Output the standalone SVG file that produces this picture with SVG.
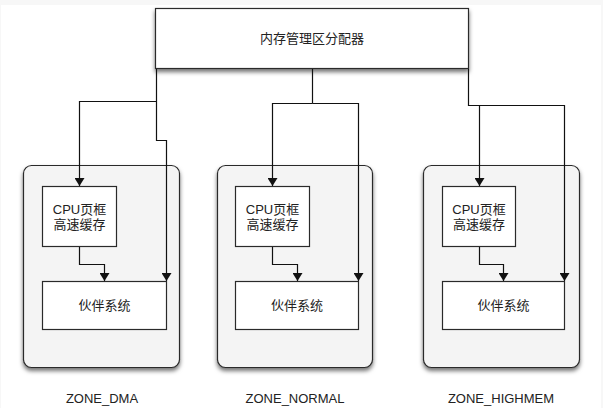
<svg xmlns="http://www.w3.org/2000/svg" width="603" height="408" viewBox="0 0 603 408">
<defs>
<filter id="sh" x="-10%" y="-10%" width="120%" height="125%">
<feDropShadow dx="0" dy="3" stdDeviation="2" flood-color="#000" flood-opacity="0.55"/>
</filter>
<marker id="ah" viewBox="0 0 8 10" refX="8" refY="5" markerWidth="8" markerHeight="10" markerUnits="userSpaceOnUse" orient="auto">
<path d="M0,0 L8,5 L0,10 Z" fill="#111"/>
</marker>
<style>
.zone{fill:#f4f4f4;stroke:#2a2a2a;stroke-width:1.2}
.box{fill:#fff;stroke:#2a2a2a;stroke-width:1.2}
.t{font-family:"Liberation Sans","Noto Sans CJK SC",sans-serif;font-size:13px;fill:#222;text-anchor:middle}
.c{fill:none;stroke:#111;stroke-width:1.2}
.a{marker-end:url(#ah)}
</style>
</defs>
<rect x="0" y="0" width="603" height="408" fill="#f7f7f7"/>
<rect x="1" y="5" width="600" height="403" fill="#fff"/>

<g id="allocator">
<rect x="155.5" y="8.5" width="313" height="60" class="box" filter="url(#sh)"/>
<text x="312" y="43" class="t">内存管理区分配器</text>
</g>

<g id="zone_dma">
<rect x="23.5" y="165.5" width="156" height="202" rx="8" class="zone" filter="url(#sh)"/>
<text x="102" y="403" class="t">ZONE_DMA</text>
</g>
<g id="cpu_dma">
<rect x="42.5" y="186.5" width="74" height="60" class="box"/>
<text x="79.5" y="214" class="t">CPU页框</text>
<text x="79.5" y="229" class="t">高速缓存</text>
</g>
<g id="buddy_dma">
<rect x="42.5" y="281.5" width="124" height="48" class="box"/>
<text x="104.5" y="310" class="t">伙伴系统</text>
</g>

<g id="zone_normal">
<rect x="217.5" y="165.5" width="155" height="202" rx="8" class="zone" filter="url(#sh)"/>
<text x="295" y="403" class="t">ZONE_NORMAL</text>
</g>
<g id="cpu_normal">
<rect x="235.5" y="186.5" width="74" height="60" class="box"/>
<text x="272.5" y="214" class="t">CPU页框</text>
<text x="272.5" y="229" class="t">高速缓存</text>
</g>
<g id="buddy_normal">
<rect x="235.5" y="281.5" width="123" height="48" class="box"/>
<text x="297" y="310" class="t">伙伴系统</text>
</g>

<g id="zone_highmem">
<rect x="423.5" y="165.5" width="156" height="202" rx="8" class="zone" filter="url(#sh)"/>
<text x="501" y="403" class="t">ZONE_HIGHMEM</text>
</g>
<g id="cpu_highmem">
<rect x="442.5" y="186.5" width="73" height="60" class="box"/>
<text x="479" y="214" class="t">CPU页框</text>
<text x="479" y="229" class="t">高速缓存</text>
</g>
<g id="buddy_highmem">
<rect x="442.5" y="281.5" width="122" height="48" class="box"/>
<text x="503.5" y="310" class="t">伙伴系统</text>
</g>

<g id="connectors">
<path class="c a" d="M156.5,69 V140.5 H166.5 V281"/>
<path class="c a" d="M156.5,101.5 H79.5 V186"/>
<path class="c a" d="M79.5,247 V264.5 H104.5 V281"/>
<path class="c" d="M312.5,69 V103.5"/>
<path class="c a" d="M312.5,103.5 H272.5 V186"/>
<path class="c a" d="M312.5,103.5 H358.5 V281"/>
<path class="c a" d="M272.5,247 V264.5 H297.5 V281"/>
<path class="c a" d="M468.5,69 V105.5 H564.5 V281"/>
<path class="c a" d="M479.5,105.5 V186"/>
<path class="c a" d="M479.5,247 V264.5 H503.5 V281"/>
</g>
</svg>
